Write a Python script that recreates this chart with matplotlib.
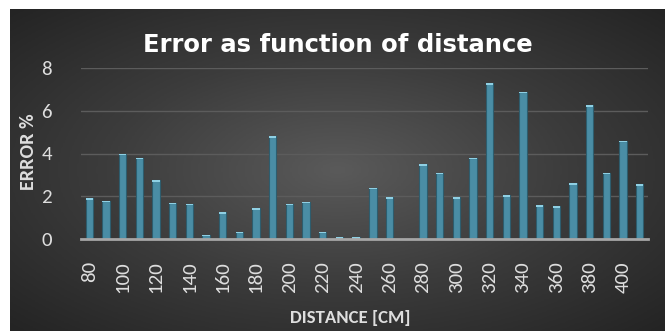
import numpy as np
import matplotlib.pyplot as plt
from matplotlib.colors import LinearSegmentedColormap

distance = list(range(80, 420, 10))
error = [1.9, 1.8, 4.0, 3.8, 2.75, 1.7, 1.65, 0.2, 1.25, 0.35, 1.45, 4.8,
         1.65, 1.75, 0.35, 0.1, 0.1, 2.4, 1.95, 0.0, 3.5, 3.1, 1.95, 3.8,
         7.3, 2.05, 6.9, 1.6, 1.55, 2.6, 6.25, 3.1, 4.6, 2.55]
yticks = [0, 2, 4, 6, 8]

txt = '#dedede'
fam = ['Carlito', 'Open Sans', 'DejaVu Sans']

fig = plt.figure(figsize=(6.65, 3.31), dpi=100, facecolor='white')

# dark radial background
bg = fig.add_axes([10 / 665, 0, 655 / 665, 322 / 331])
yy, xx = np.mgrid[-1:1:200j, -1:1:400j]
r = np.sqrt(xx ** 2 + yy ** 2) / np.sqrt(2)
cmap = LinearSegmentedColormap.from_list('bgc', ['#5a5a5a', '#3c3c3c', '#242424'])
bg.imshow(r, cmap=cmap, vmin=0, vmax=1, aspect='auto', extent=[0, 1, 0, 1])
bg.set_axis_off()

ax = fig.add_axes([81 / 665, 1 - 239 / 331, (648 - 81) / 665, (239 - 68) / 331])
ax.patch.set_alpha(0)
x = np.arange(len(distance))
ax.bar(x, error, width=0.44, color='#4a8da5', edgecolor='#2d5d6e',
       linewidth=0.8, zorder=3)
# light caps on top of the bars
ax.bar(x, [0.08 if e > 0 else 0 for e in error], bottom=[e - 0.08 for e in error],
       width=0.44, color='#8fd0e4', linewidth=0, zorder=4)

ax.set_xlim(-0.5, len(distance) - 0.5)
ax.set_ylim(0, 8)
ax.set_yticks(yticks)
ax.set_yticklabels([str(v) for v in yticks], color=txt, fontsize=15,
                   family=fam)
ax.set_xticks(x[::2])
ax.set_xticklabels([str(d) for d in distance[::2]], rotation=90, color=txt,
                   fontsize=15, family=fam)
ax.tick_params(axis='y', length=0, pad=21)
ax.tick_params(axis='x', length=0, pad=16)
ax.grid(axis='y', color='#5c5c5c', lw=1, zorder=0)
for s in ['top', 'right', 'left']:
    ax.spines[s].set_visible(False)
ax.spines['bottom'].set_color('#a6a6a6')
ax.spines['bottom'].set_linewidth(2)
ax.spines['bottom'].set_zorder(5)

fig.text(338 / 665, 1 - 45 / 331, 'Error as function of distance', color='white',
         fontsize=17.5, fontweight='bold', ha='center', va='center',
         family='DejaVu Sans')
fig.text(29 / 665, 1 - 152 / 331, 'ERROR %', color=txt, fontsize=14.5,
         fontweight='bold', rotation=90, ha='center', va='center',
         family=fam)
fig.text(350 / 665, 1 - 318 / 331, 'DISTANCE [CM]', color=txt, fontsize=13.5,
         fontweight='bold', ha='center', va='center', family=fam)

fig.savefig('out.png', dpi=100, facecolor='white')
